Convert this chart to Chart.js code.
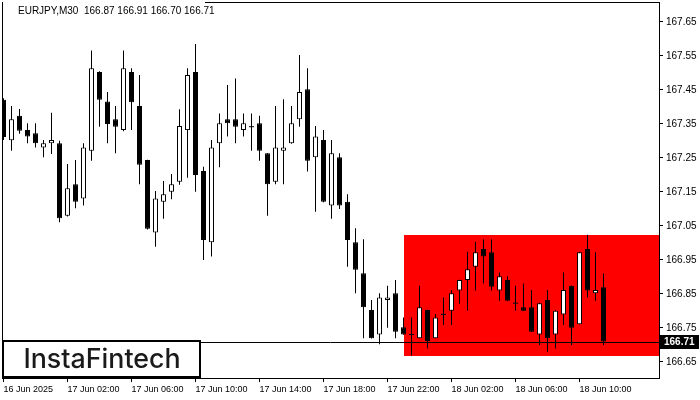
<!DOCTYPE html>
<html>
<head>
<meta charset="utf-8">
<script src="https://cdn.jsdelivr.net/npm/chart.js@4.4.1/dist/chart.umd.min.js"></script>
<style>
  html, body { margin: 0; padding: 0; background: #fff; }
  canvas { display: block; }
</style>
</head>
<body>
<canvas id="chart" width="700" height="400"></canvas>
<script>
/* ============================================
   DATA  (EURJPY M30, one entry per candle)
   ============================================ */
const symbol = 'EURJPY,M30';

const openArr = [
  167.421, 167.302, 167.374, 167.332, 167.323, 167.281, 167.293, 167.293, 167.080, 167.173,
  167.131, 167.271, 167.503, 167.416, 167.364, 167.332, 167.503, 167.403, 167.244, 167.031,
  167.121, 167.151, 167.180, 167.332, 167.503, 167.212, 167.002, 167.293, 167.364, 167.364,
  167.332, 167.342, 167.352, 167.264, 167.180, 167.271, 167.293, 167.364, 167.452, 167.252,
  167.303, 167.110, 167.252, 167.121, 167.002, 166.911, 166.803, 166.731, 166.832, 166.852,
  166.752, 166.731, 166.720, 166.803, 166.720, 166.790, 166.801, 166.860, 166.891, 166.930,
  166.982, 166.973, 166.860, 166.891, 166.823, 166.811, 166.811, 166.731, 166.832, 166.731,
  166.790, 166.874, 166.761, 166.982, 166.852, 166.870
];
const highArr = [
  167.426, 167.403, 167.394, 167.352, 167.352, 167.303, 167.383, 167.301, 167.232, 167.244,
  167.293, 167.566, 167.505, 167.444, 167.403, 167.566, 167.514, 167.494, 167.245, 167.153,
  167.182, 167.203, 167.393, 167.514, 167.585, 167.224, 167.303, 167.381, 167.465, 167.484,
  167.381, 167.381, 167.374, 167.265, 167.403, 167.423, 167.403, 167.553, 167.514, 167.344,
  167.332, 167.303, 167.264, 167.143, 167.043, 167.011, 166.832, 166.852, 166.874, 166.891,
  166.781, 166.781, 166.874, 166.804, 166.791, 166.840, 166.862, 166.892, 166.974, 167.004,
  167.011, 167.011, 166.913, 166.902, 166.874, 166.881, 166.862, 166.824, 166.862, 166.802,
  166.913, 166.875, 166.974, 167.024, 166.973, 166.910
];
const lowArr = [
  167.303, 167.271, 167.321, 167.293, 167.281, 167.252, 167.262, 167.061, 167.078, 167.102,
  167.110, 167.242, 167.342, 167.293, 167.264, 167.329, 167.332, 167.173, 167.040, 166.989,
  167.071, 167.129, 167.171, 167.192, 167.151, 166.950, 166.960, 167.223, 167.313, 167.293,
  167.313, 167.271, 167.242, 167.080, 167.173, 167.173, 167.292, 167.342, 167.210, 167.092,
  167.120, 167.071, 167.100, 166.930, 166.852, 166.720, 166.719, 166.702, 166.751, 166.720,
  166.730, 166.669, 166.719, 166.690, 166.719, 166.759, 166.759, 166.821, 166.801, 166.860,
  166.881, 166.860, 166.830, 166.829, 166.801, 166.800, 166.738, 166.700, 166.680, 166.690,
  166.759, 166.700, 166.760, 166.840, 166.830, 166.700
];
const closeArr = [
  167.312, 167.364, 167.330, 167.313, 167.293, 167.293, 167.303, 167.073, 167.161, 167.121,
  167.281, 167.514, 167.421, 167.350, 167.342, 167.514, 167.414, 167.230, 167.042, 167.131,
  167.143, 167.173, 167.344, 167.494, 167.200, 167.009, 167.281, 167.352, 167.352, 167.342,
  167.352, 167.342, 167.271, 167.173, 167.281, 167.281, 167.352, 167.444, 167.242, 167.313,
  167.121, 167.264, 167.110, 167.009, 166.921, 166.811, 166.720, 166.840, 166.840, 166.739,
  166.731, 166.731, 166.811, 166.712, 166.781, 166.790, 166.852, 166.891, 166.923, 166.973,
  166.960, 166.871, 166.902, 166.830, 166.823, 166.801, 166.739, 166.823, 166.720, 166.801,
  166.862, 166.751, 166.973, 166.860, 166.862, 166.710
];

// time axis labels (every 8th bar = 4 hours)
const xTickIdx    = [0, 8, 16, 24, 32, 40, 48, 56, 64, 72];
const xTickLabels = ['16 Jun 2025', '17 Jun 02:00', '17 Jun 06:00', '17 Jun 10:00', '17 Jun 14:00',
                     '17 Jun 18:00', '17 Jun 22:00', '18 Jun 02:00', '18 Jun 06:00', '18 Jun 10:00'];
// price axis labels
const yTicks = [166.65, 166.75, 166.85, 166.95, 167.05, 167.15, 167.25, 167.35, 167.45, 167.55, 167.65];

// red rectangle pattern zone
const zoneStart = 50;
const zoneHigh  = 167.024;
const zoneLow   = 166.669;

/* ============================================
   DERIVED DATASETS
   ============================================ */
const idx = openArr.map((_, i) => i);
const last = idx.length - 1;
const lastPrice = closeArr[last];
const wickData = idx.map(i => ({ x: i, y: [lowArr[i], highArr[i]] }));
const bodyData = idx.map(i => ({ x: i, y: [openArr[i], closeArr[i]] }));
const dojiData = idx.filter(i => openArr[i] === closeArr[i]).map(i => ({ x: i, y: closeArr[i] }));

// no extra label padding around the plot, MT4 style
const noPad = s => { s.paddingTop = 0; s.paddingBottom = 0; s.paddingLeft = 0; s.paddingRight = 0; };

/* ============================================
   OVERLAY PLUGIN (zone, price line, frame, labels)
   ============================================ */
const overlay = {
    id: 'overlay',
    beforeDatasetsDraw(chart) {
        const { ctx, chartArea: a, scales: { x, y } } = chart;
        ctx.save();
        // pattern zone
        const zx = Math.round(x.getPixelForValue(zoneStart));
        const zt = Math.round(y.getPixelForValue(zoneHigh));
        const zb = Math.round(y.getPixelForValue(zoneLow));
        ctx.fillStyle = '#ff0000';
        ctx.fillRect(zx, zt, a.right - zx, zb - zt);
        // current price line
        const py = Math.round(y.getPixelForValue(lastPrice)) + 0.5;
        ctx.strokeStyle = '#000';
        ctx.lineWidth = 1;
        ctx.beginPath();
        ctx.moveTo(a.left, py);
        ctx.lineTo(a.right, py);
        ctx.stroke();
        ctx.restore();
    },
    afterDraw(chart) {
        const { ctx, chartArea: a, scales: { y } } = chart;
        ctx.save();
        // frame: left and top edges
        ctx.strokeStyle = '#000';
        ctx.lineWidth = 1;
        ctx.beginPath();
        ctx.moveTo(a.left + 0.5, a.top);
        ctx.lineTo(a.left + 0.5, a.bottom);
        ctx.moveTo(205, a.top + 0.5);
        ctx.lineTo(a.right, a.top + 0.5);
        ctx.stroke();

        // title
        ctx.fillStyle = '#000';
        ctx.font = '10px "Liberation Sans"';
        ctx.textBaseline = 'middle';
        ctx.textAlign = 'left';
        const ohlc = [openArr[last], highArr[last], lowArr[last], closeArr[last]].map(v => v.toFixed(2)).join(' ');
        ctx.fillText(symbol + '  ' + ohlc, 18, 11);

        // current price tag
        const py = Math.round(y.getPixelForValue(lastPrice));
        ctx.fillStyle = '#000';
        ctx.fillRect(a.right + 1, py - 7, 39, 14);
        ctx.fillStyle = '#fff';
        ctx.font = 'bold 10px "Liberation Sans"';
        ctx.fillText(lastPrice.toFixed(2), a.right + 5, py + 0.5);

        // logo box
        ctx.fillStyle = '#fff';
        ctx.fillRect(2, 340, 199, 38);
        ctx.lineWidth = 2;
        ctx.strokeStyle = '#000';
        ctx.strokeRect(3, 341, 197, 36);
        ctx.fillStyle = '#1a1a1a';
        ctx.font = '500 25px Inter';
        ctx.textAlign = 'center';
        const w = ctx.measureText('InstaFintech').width;
        const size = 25 * 157 / w;
        ctx.font = '500 ' + size.toFixed(1) + 'px Inter';
        ctx.fillText('InstaFintech', 102, 360);
        ctx.restore();
    }
};

/* ============================================
   CHART
   ============================================ */
Chart.defaults.font.family = '"Liberation Sans", Arial, sans-serif';
Chart.defaults.color = '#000';

new Chart(document.getElementById('chart'), {
    type: 'bar',
    data: {
        datasets: [
            {
                label: 'wick',
                data: wickData,
                backgroundColor: '#000',
                borderWidth: 0,
                barThickness: 1,
                grouped: false,
                inflateAmount: 0,
                order: 3
            },
            {
                label: 'body',
                data: bodyData,
                backgroundColor: c => closeArr[c.dataIndex] >= openArr[c.dataIndex] ? '#fff' : '#000',
                borderColor: '#000',
                borderWidth: 1,
                borderSkipped: false,
                barThickness: 5,
                grouped: false,
                inflateAmount: 0,
                order: 2
            },
            {
                type: 'line',
                label: 'doji',
                data: dojiData,
                showLine: false,
                pointStyle: 'line',
                pointRadius: 2.5,
                borderColor: '#000',
                borderWidth: 1,
                order: 1
            }
        ]
    },
    options: {
        responsive: false,
        animation: false,
        devicePixelRatio: 1,
        layout: { autoPadding: false, padding: { left: 2, top: 2, right: 0, bottom: 0 } },
        plugins: { legend: { display: false }, tooltip: { enabled: false } },
        scales: {
            x: {
                type: 'linear',
                offset: false,
                min: -0.1875,
                max: 81.9375,
                grid: { display: true, offset: false, drawOnChartArea: false, drawTicks: true, tickLength: 4, color: '#000' },
                border: { display: true, color: '#000', width: 1 },
                afterBuildTicks: s => { s.ticks = xTickIdx.map(v => ({ value: v })); },
                afterFit: s => { s.height = 22; noPad(s); },
                ticks: {
                    autoSkip: false,
                    maxRotation: 0,
                    align: 'start',
                    padding: 2,
                    font: { size: 9 },
                    callback: v => xTickLabels[xTickIdx.indexOf(v)]
                }
            },
            y: {
                position: 'right',
                min: 166.6029,
                max: 167.7088,
                grid: { display: true, drawOnChartArea: false, drawTicks: true, tickLength: 4, color: '#000' },
                border: { display: true, color: '#000', width: 1 },
                afterBuildTicks: s => { s.ticks = yTicks.map(v => ({ value: v })); },
                afterFit: s => { s.width = 41; noPad(s); },
                ticks: {
                    padding: 3,
                    font: { size: 10 },
                    callback: v => Number(v).toFixed(2)
                }
            }
        }
    },
    plugins: [overlay]
});
</script>
</body>
</html>
